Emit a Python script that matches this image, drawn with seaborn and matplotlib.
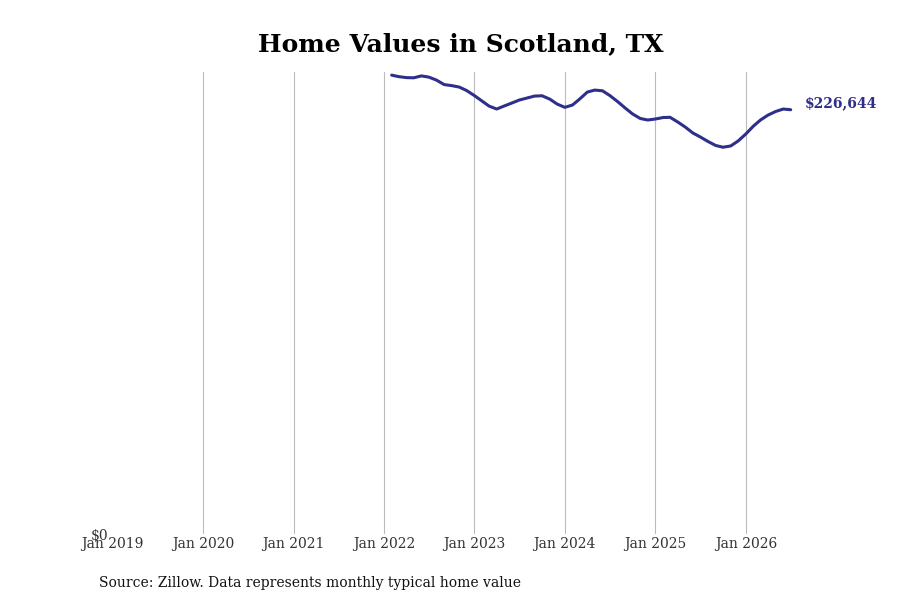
import matplotlib
matplotlib.use("Agg")
import matplotlib.pyplot as plt
import seaborn as sns
import pandas as pd

dates = pd.date_range("2022-02-01", "2026-07-01", freq="MS")
values = [
    245136, 244336, 243803, 243697, 244709, 244070, 242471, 240073, 239540, 238741,
    236876, 234211, 231280, 228616, 227017, 228616, 230214, 231813, 232879, 233945,
    234105, 232346, 229682, 227923, 229149, 232346, 236076, 237142, 236769, 234211,
    231014, 227550, 224353, 221954, 221155, 221688, 222487, 222594, 220089, 217425,
    214227, 212096, 209698, 207566, 206607, 207300, 209964, 213695, 217958, 221155,
    223820, 225685, 227017, 226644,
]
tick_years = list(range(2019, 2027))
tick_labels = [f"Jan {y}" for y in tick_years]
title = "Home Values in Scotland, TX"
source = "Source: Zillow. Data represents monthly typical home value"
line_color = "#2E2E8B"

df = pd.DataFrame({"date": dates, "value": values})

sns.set_style("white")
plt.rcParams["font.family"] = ["DejaVu Serif"]

fig = plt.figure(figsize=(9, 6), dpi=100)
ax = fig.add_axes([0.125, 0.11, 0.775, 0.77])
sns.lineplot(data=df, x="date", y="value", ax=ax, color=line_color, linewidth=2.2)

ticks = [pd.Timestamp(f"{y}-01-01") for y in tick_years]
ax.set_xticks(ticks)
ax.set_xticklabels(tick_labels, fontsize=10, color="#333333")
ax.set_xlim(pd.Timestamp("2019-01-01"), pd.Timestamp("2026-09-17"))
ax.set_ylim(0, 246800)
ax.set_yticks([0])
ax.set_yticklabels(["$0"], fontsize=10, color="#333333")
ax.tick_params(axis="both", length=0, pad=2)
ax.tick_params(axis="y", pad=3)
ax.grid(axis="x", color="#bbbbbb", linewidth=0.8)
ax.grid(axis="y", visible=False)
ax.xaxis.get_gridlines()[0].set_visible(False)
for s in ax.spines.values():
    s.set_visible(False)
ax.set_xlabel("")
ax.set_ylabel("")

last_date = df["date"].iloc[-1]
last_val = df["value"].iloc[-1]
ax.annotate(f"${last_val:,.0f}", xy=(last_date, last_val), xytext=(10, 5),
            textcoords="offset points", color=line_color, fontsize=10,
            fontweight="bold", va="center", ha="left", annotation_clip=False)

fig.suptitle(title, x=0.512, fontsize=18, fontweight="bold", y=0.947, color="black")
fig.text(0.11, 0.022, source, fontsize=10, color="#111111", ha="left")

fig.savefig("out.png", dpi=100)
